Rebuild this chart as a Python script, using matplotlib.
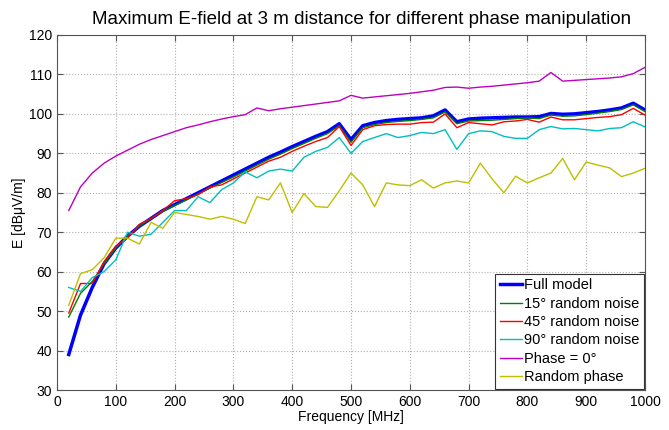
import matplotlib
matplotlib.use("Agg")
import matplotlib.pyplot as plt
import numpy as np

plt.rcParams['font.family'] = ['Liberation Sans', 'DejaVu Sans']

freq = list(range(20, 1001, 20))

full_model = [39, 49, 56, 62, 66, 69, 71.5, 73.5, 75.5, 77, 78.5, 80, 81.5, 83, 84.5, 86, 87.5, 89,
              90.3, 91.7, 93, 94.3, 95.5, 97.5, 93.5, 97, 97.8, 98.3, 98.6, 98.8, 99, 99.5, 101, 98,
              98.7, 98.9, 99, 99.1, 99.2, 99.2, 99.3, 100.1, 99.9, 100, 100.3, 100.6, 101, 101.5, 102.7, 101]
noise15 = [48.5, 54.5, 57.5, 62, 66, 69, 71.5, 73.5, 75.3, 76.8, 78.2, 79.7, 81.2, 82.6, 84, 85.5, 87, 88.5,
           89.8, 91.2, 92.5, 93.8, 95, 97, 92.8, 96.5, 97.3, 97.8, 98.1, 98.3, 98.6, 99, 100.5, 97.5,
           98.2, 98.3, 98.4, 98.6, 98.8, 99, 98.8, 99.7, 99.4, 99.5, 99.8, 100.2, 100.6, 101.1, 102.3, 100.6]
noise45 = [49.5, 57, 57, 62.5, 66.5, 68.5, 72, 73.5, 75.5, 78, 78.5, 79.5, 81.5, 82, 83.5, 85, 86.5, 88,
           89, 90.5, 91.8, 93, 94, 96.8, 92, 96, 97, 97.3, 97.4, 97.4, 97.8, 97.9, 100, 96.5,
           97.8, 97.5, 97.2, 98, 98.2, 98.6, 97.9, 99.2, 98.5, 98.5, 98.8, 99.1, 99.3, 99.8, 101.4, 99.7]
noise90 = [56, 55, 58.5, 60, 63, 70, 69, 69.5, 72.5, 75.5, 75.5, 79, 77.5, 80.8, 82.5, 85.3, 83.8, 85.5,
           86, 85.5, 89, 90.5, 91.5, 94, 90, 93, 94, 95, 94, 94.5, 95.3, 95, 96, 91,
           95, 95.7, 95.5, 94.3, 93.8, 93.8, 96, 96.8, 96.2, 96.3, 96, 95.7, 96.3, 96.5, 98, 96.7]
phase0 = [75.5, 81.5, 85, 87.5, 89.3, 90.8, 92.3, 93.5, 94.5, 95.5, 96.5, 97.2, 98, 98.7, 99.3, 99.8, 101.5, 100.8,
          101.3, 101.7, 102.1, 102.5, 102.9, 103.3, 104.7, 104, 104.3, 104.6, 104.9, 105.2, 105.6, 106, 106.7, 106.8,
          106.5, 106.8, 107, 107.3, 107.6, 107.9, 108.3, 110.5, 108.3, 108.5, 108.7, 108.9, 109.1, 109.4, 110.2, 111.8]
random_phase = [51.5, 59.5, 60.5, 63.5, 68.5, 68.5, 67, 72.5, 71, 75, 74.5, 74, 73.3, 74, 73.3, 72.2, 79, 78.2,
                82.5, 75, 79.8, 76.5, 76.3, 80.5, 85, 82, 76.5, 82.5, 82, 81.8, 83.3, 81.2, 82.5, 83,
                82.5, 87.5, 83.5, 80, 84.2, 82.5, 83.8, 85, 88.7, 83.3, 87.8, 87, 86.3, 84.1, 85, 86.2]

labels = ["Full model", "15\u00b0 random noise", "45\u00b0 random noise", "90\u00b0 random noise",
          "Phase = 0\u00b0", "Random phase"]

fig = plt.figure(figsize=(6.69, 4.30), dpi=100)
ax = fig.add_axes([57/669, 40/430, (645-57)/669, (390-35)/430])

ax.plot(freq, full_model, color=(0, 0, 1), lw=2.5, label=labels[0], zorder=3)
ax.plot(freq, noise15, color=(0, 0.5, 0), lw=1.0, label=labels[1], zorder=4)
ax.plot(freq, noise45, color=(1, 0, 0), lw=1.0, label=labels[2], zorder=5)
ax.plot(freq, noise90, color=(0, 0.75, 0.75), lw=1.0, label=labels[3], zorder=6)
ax.plot(freq, phase0, color=(0.75, 0, 0.75), lw=1.0, label=labels[4], zorder=7)
ax.plot(freq, random_phase, color=(0.75, 0.75, 0), lw=1.0, label=labels[5], zorder=8)

ax.set_xlim(0, 1000)
ax.set_ylim(30, 120)
ax.set_xticks(range(0, 1001, 100))
ax.set_yticks(range(30, 121, 10))
ax.grid(True, linestyle=':', color='#b0b0b0', linewidth=0.8)
ax.tick_params(direction='in', length=4, labelsize=10, top=True, right=True, color='#555555')
for s in ax.spines.values():
    s.set_color('#555555')
    s.set_linewidth(0.8)

ax.set_xlabel("Frequency [MHz]", fontsize=10, labelpad=1)
ax.set_ylabel("E [dB\u03bcV/m]", fontsize=10, labelpad=2)
ax.set_title("Maximum E-field at 3 m distance for different phase manipulation", fontsize=13.5, pad=8,
             x=0.518)

leg = ax.legend(loc='lower right', fontsize=10.5, fancybox=False, framealpha=1,
                edgecolor='#333333', handlelength=1.5, handletextpad=0.15,
                borderaxespad=0.1, borderpad=0.3, labelspacing=0.3)
leg.get_frame().set_linewidth(0.8)

fig.savefig("out.png", dpi=100)
